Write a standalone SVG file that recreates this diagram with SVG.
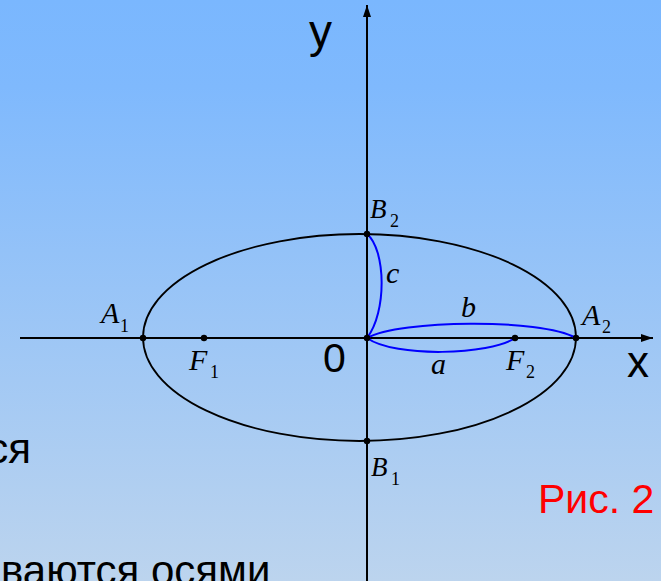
<svg xmlns="http://www.w3.org/2000/svg" width="661" height="581" viewBox="0 0 661 581">
<defs>
<linearGradient id="bg" x1="0" y1="0" x2="0" y2="1">
<stop offset="0" stop-color="#7ab7fe"/>
<stop offset="0.15" stop-color="#7fb9fd"/>
<stop offset="1" stop-color="#bcd4ee"/>
</linearGradient>
<marker id="arr" viewBox="0 0 12 8" refX="12" refY="4" markerWidth="12" markerHeight="8" markerUnits="userSpaceOnUse" orient="auto">
<path d="M0,0 L12,4 L0,8 Z" fill="#000"/>
</marker>
<style>
.ax{stroke:#000;stroke-width:2;fill:none}
.ell{stroke:#000;stroke-width:1.8;fill:none}
.blue{stroke:#0000ff;stroke-width:2;fill:none}
.pt{fill:#000}
.lab{font-family:"Liberation Serif","Times New Roman",serif;font-style:italic;fill:#000}
.sub{font-family:"Liberation Serif","Times New Roman",serif;fill:#000}
.sans{font-family:"Liberation Sans",Arial,sans-serif;fill:#000}
</style>
</defs>
<rect x="0" y="0" width="661" height="581" fill="url(#bg)"/>
<g id="connectors">
<line class="ax" x1="20" y1="338" x2="653" y2="338" marker-end="url(#arr)"/>
<line class="ax" x1="367" y1="581" x2="367" y2="5" marker-end="url(#arr)"/>
<ellipse id="ellipse" class="ell" cx="359.5" cy="337.5" rx="216.5" ry="103.5"/>
<path id="seg-c" class="blue" d="M367,234 C386,250 387,312 367,338"/>
<path id="seg-b" class="blue" d="M367,338 C400,320 540,318 576,338"/>
<path id="seg-a" class="blue" d="M367,338 C395,358 490,355 515,338"/>
</g>
<g id="axis-y-label"><text class="sans" x="309" y="47" font-size="46">y</text></g>
<g id="axis-x-label"><text class="sans" x="627" y="377" font-size="44">x</text></g>
<g id="origin"><circle class="pt" cx="367" cy="338" r="3.2"/><text class="sans" x="323" y="372" font-size="41">0</text></g>
<g id="A1"><circle class="pt" cx="143" cy="338" r="3.2"/><text class="lab" x="101" y="323" font-size="30">A</text><text class="sub" x="120" y="332" font-size="18">1</text></g>
<g id="F1"><circle class="pt" cx="204" cy="338" r="3.2"/><text class="lab" x="189" y="370" font-size="30">F</text><text class="sub" x="210" y="378" font-size="18">1</text></g>
<g id="A2"><circle class="pt" cx="576" cy="338" r="3.2"/><text class="lab" x="582" y="325" font-size="30">A</text><text class="sub" x="602" y="333" font-size="18">2</text></g>
<g id="F2"><circle class="pt" cx="515" cy="338" r="3.2"/><text class="lab" x="506" y="370" font-size="30">F</text><text class="sub" x="526" y="378" font-size="18">2</text></g>
<g id="B2"><circle class="pt" cx="367" cy="234" r="3.2"/><text class="lab" x="370" y="218" font-size="27">B</text><text class="sub" x="390" y="227" font-size="18">2</text></g>
<g id="B1"><circle class="pt" cx="367" cy="441" r="3.2"/><text class="lab" x="371" y="476" font-size="27">B</text><text class="sub" x="391" y="485" font-size="18">1</text></g>
<g id="label-c"><text class="lab" x="386" y="283" font-size="30">c</text></g>
<g id="label-b"><text class="lab" x="461" y="317" font-size="30">b</text></g>
<g id="label-a"><text class="lab" x="431" y="374" font-size="30">a</text></g>
<g id="caption"><text x="538" y="513" font-size="41" font-family="Liberation Sans, Arial, sans-serif" fill="#ff0000">Рис. 2</text></g>
<g id="side-text">
<text class="sans" x="31" y="463" font-size="42" text-anchor="end">ся</text>
<text class="sans" x="1" y="585" font-size="42">ваются осями</text>
</g>
</svg>
